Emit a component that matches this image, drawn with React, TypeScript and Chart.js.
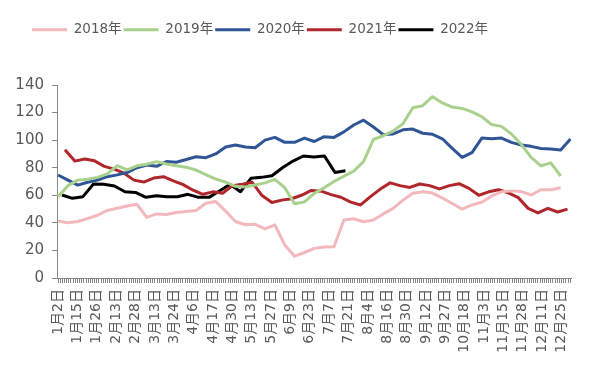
import React, { useEffect, useRef } from 'react';
import { Chart, registerables } from 'chart.js';

Chart.register(...registerables);

// x axis: trading days of the year, a label every 9th day
const tickLabels = ['1月2日', '1月15日', '1月26日', '2月13日', '2月28日', '3月13日', '3月24日', '4月6日', '4月17日', '4月30日', '5月13日', '5月27日', '6月9日', '6月23日', '7月7日', '7月21日', '8月4日', '8月16日', '8月30日', '9月12日', '9月27日', '10月18日', '11月3日', '11月15日', '11月28日', '12月11日', '12月25日'];
const DAYS = 239;
const LABEL_EVERY = 9;
const WEEK = 4.58; // trading days between weekly observations

const yTicks = [0, 20, 40, 60, 80, 100, 120, 140];

// weekly values
const y2018 = [41.3, 40, 41, 43.2, 45.5, 49, 50.6, 52.2, 53.5, 44, 46.5, 46, 47.5, 48.3, 49, 54.2, 55.5, 48.5, 41, 38.6, 38.9, 35.6, 38.5, 24, 15.8, 18.5, 21.5, 22.5, 22.6, 42, 43, 40.8, 42, 46.5, 50.5, 56.5, 61.5, 62.6, 61.6, 58, 54, 50, 53, 55, 59.5, 62.5, 63.2, 62.7, 60.2, 64, 64, 65.5];
const y2019 = [59, 67, 71, 71.6, 73, 75.5, 81.5, 78.5, 81.4, 82.5, 84.4, 82.7, 81.4, 80.4, 78.3, 75, 71.8, 69.5, 66.5, 66, 67.5, 69, 71.5, 65.5, 53.8, 55.2, 61.4, 65.5, 70, 73.8, 77.5, 84.4, 100.5, 103.2, 106.5, 112, 123.5, 125, 131.5, 127, 124, 123, 120.5, 117, 111.3, 110, 104.5, 97, 87.5, 81.4, 83.5, 74];
const y2020 = [74.7, 71, 67.4, 69.5, 71, 73.5, 74.8, 76.5, 80, 82, 81, 84.5, 84, 86, 88, 87.3, 90, 95, 96.5, 95, 94.5, 100, 102, 98.4, 98.4, 101.5, 99, 102.5, 102, 106, 111, 114.5, 109.5, 104, 104.5, 107.5, 108, 105, 104.2, 101, 94, 87.5, 91, 101.5, 101, 101.5, 98.4, 96.4, 95.5, 94, 93.5, 92.8, 100.8];
const y2021 = [93, 84.8, 86.3, 85, 81, 79, 76, 71, 69.6, 72.5, 73.5, 70.5, 67.7, 63.7, 60.7, 62.5, 61.5, 67, 68, 69.4, 59.8, 54.8, 56.5, 57.5, 60, 63.5, 63, 60.5, 58.6, 55, 53, 59, 64.5, 69, 67, 65.7, 68.2, 67, 64.6, 67, 68.4, 65, 60, 62.5, 64, 61.8, 58.3, 50.5, 47.2, 50.5, 47.9, 50];
const y2022 = [60.2, 57.8, 59, 68.2, 68, 66.7, 62.6, 62.1, 58.5, 59.7, 59, 59, 60.7, 58.5, 58.5, 63.1, 68, 62.6, 72.3, 73, 74.2, 80, 84.8, 88.5, 87.7, 88.5, 76.6, 77.8];

const seriesNames = ['2018年', '2019年', '2020年', '2021年', '2022年'];
const seriesValues = [y2018, y2019, y2020, y2021, y2022];
const seriesStartDay = [0, 0, 0, 3.2, 1.8];
const seriesStepDays = [WEEK, WEEK, WEEK, WEEK, 4.88];
const seriesColors = ['#F2B8BC', '#A9D18E', '#2F5597', '#B0262B', '#000000'];

const FONT = "'DejaVu Sans', 'Noto Sans CJK SC', sans-serif";
const TEXT = '#595959';
const AXIS = '#898989';

const legendFix = {
  id: 'legendFix',
  beforeLayout(chart: any) {
    const lg = chart.legend;
    if (lg && !lg.__patched) {
      const f = lg.fit.bind(lg);
      lg.fit = function () {
        f();
        this.height = 64;
      };
      lg.__patched = true;
    }
  },
  afterLayout(chart: any) {
    const lg = chart.legend;
    if (lg) {
      lg.left = 30;
    }
  },
};

export default function App() {
  const ref = useRef<HTMLCanvasElement>(null);
  useEffect(() => {
    const canvas = ref.current;
    if (!canvas) return;
    const chart = new Chart(canvas, {
      type: 'line',
      data: {
        datasets: seriesNames.map((name, s) => ({
          label: name,
          data: seriesValues[s].map((v, i) => ({ x: seriesStartDay[s] + i * seriesStepDays[s], y: v })),
          borderColor: seriesColors[s],
          backgroundColor: seriesColors[s],
          borderWidth: 3,
          pointRadius: 0,
          tension: 0,
          fill: false,
          borderJoinStyle: 'round',
        })),
      },
      options: {
        animation: false,
        responsive: false,
        maintainAspectRatio: false,
        layout: { padding: { top: 21, right: 18, left: 0, bottom: 0 } },
        plugins: {
          legend: {
            position: 'top',
            align: 'start',
            labels: {
              boxWidth: 35,
              boxHeight: 3,
              padding: 2,
              color: TEXT,
              font: { family: FONT, size: 13.5 },
              generateLabels: (c: any) =>
                (Chart.defaults.plugins.legend.labels as any)
                  .generateLabels(c)
                  .map((l: any) => ({ ...l, lineWidth: 0, fillStyle: l.strokeStyle })),
            },
          },
          tooltip: { enabled: false },
        },
        scales: {
          x: {
            type: 'linear',
            min: -0.5,
            max: DAYS - 0.5,
            afterBuildTicks: (s: any) => {
              s.ticks = Array.from({ length: DAYS }, (_, i) => ({ value: i }));
            },
            afterFit: (s: any) => {
              s.height = 95;
            },
            ticks: {
              autoSkip: false,
              maxRotation: 90,
              minRotation: 90,
              padding: 6,
              color: TEXT,
              font: { family: FONT, size: 14 },
              callback: (v: any) => {
                const n = Math.round(Number(v));
                return n % LABEL_EVERY === 0 ? tickLabels[n / LABEL_EVERY] ?? '' : '';
              },
            },
            grid: { drawOnChartArea: false, tickLength: 5, color: AXIS },
            border: { color: AXIS, width: 1 },
          },
          y: {
            min: 0,
            max: 140,
            afterBuildTicks: (s: any) => {
              s.ticks = yTicks.map((v) => ({ value: v }));
            },
            afterFit: (s: any) => {
              s.width = 57;
            },
            ticks: {
              padding: 8,
              color: TEXT,
              font: { family: FONT, size: 15 },
            },
            grid: { drawOnChartArea: false, tickLength: 5, color: AXIS },
            border: { color: AXIS, width: 1 },
          },
        },
      },
      plugins: [legendFix],
    } as any);
    return () => chart.destroy();
  }, []);
  return (
    <div style={{ position: 'fixed', left: 0, top: 0, width: 593, height: 373, background: '#fff' }}>
      <canvas ref={ref} width={593} height={373} style={{ width: 593, height: 373, display: 'block' }} />
    </div>
  );
}
